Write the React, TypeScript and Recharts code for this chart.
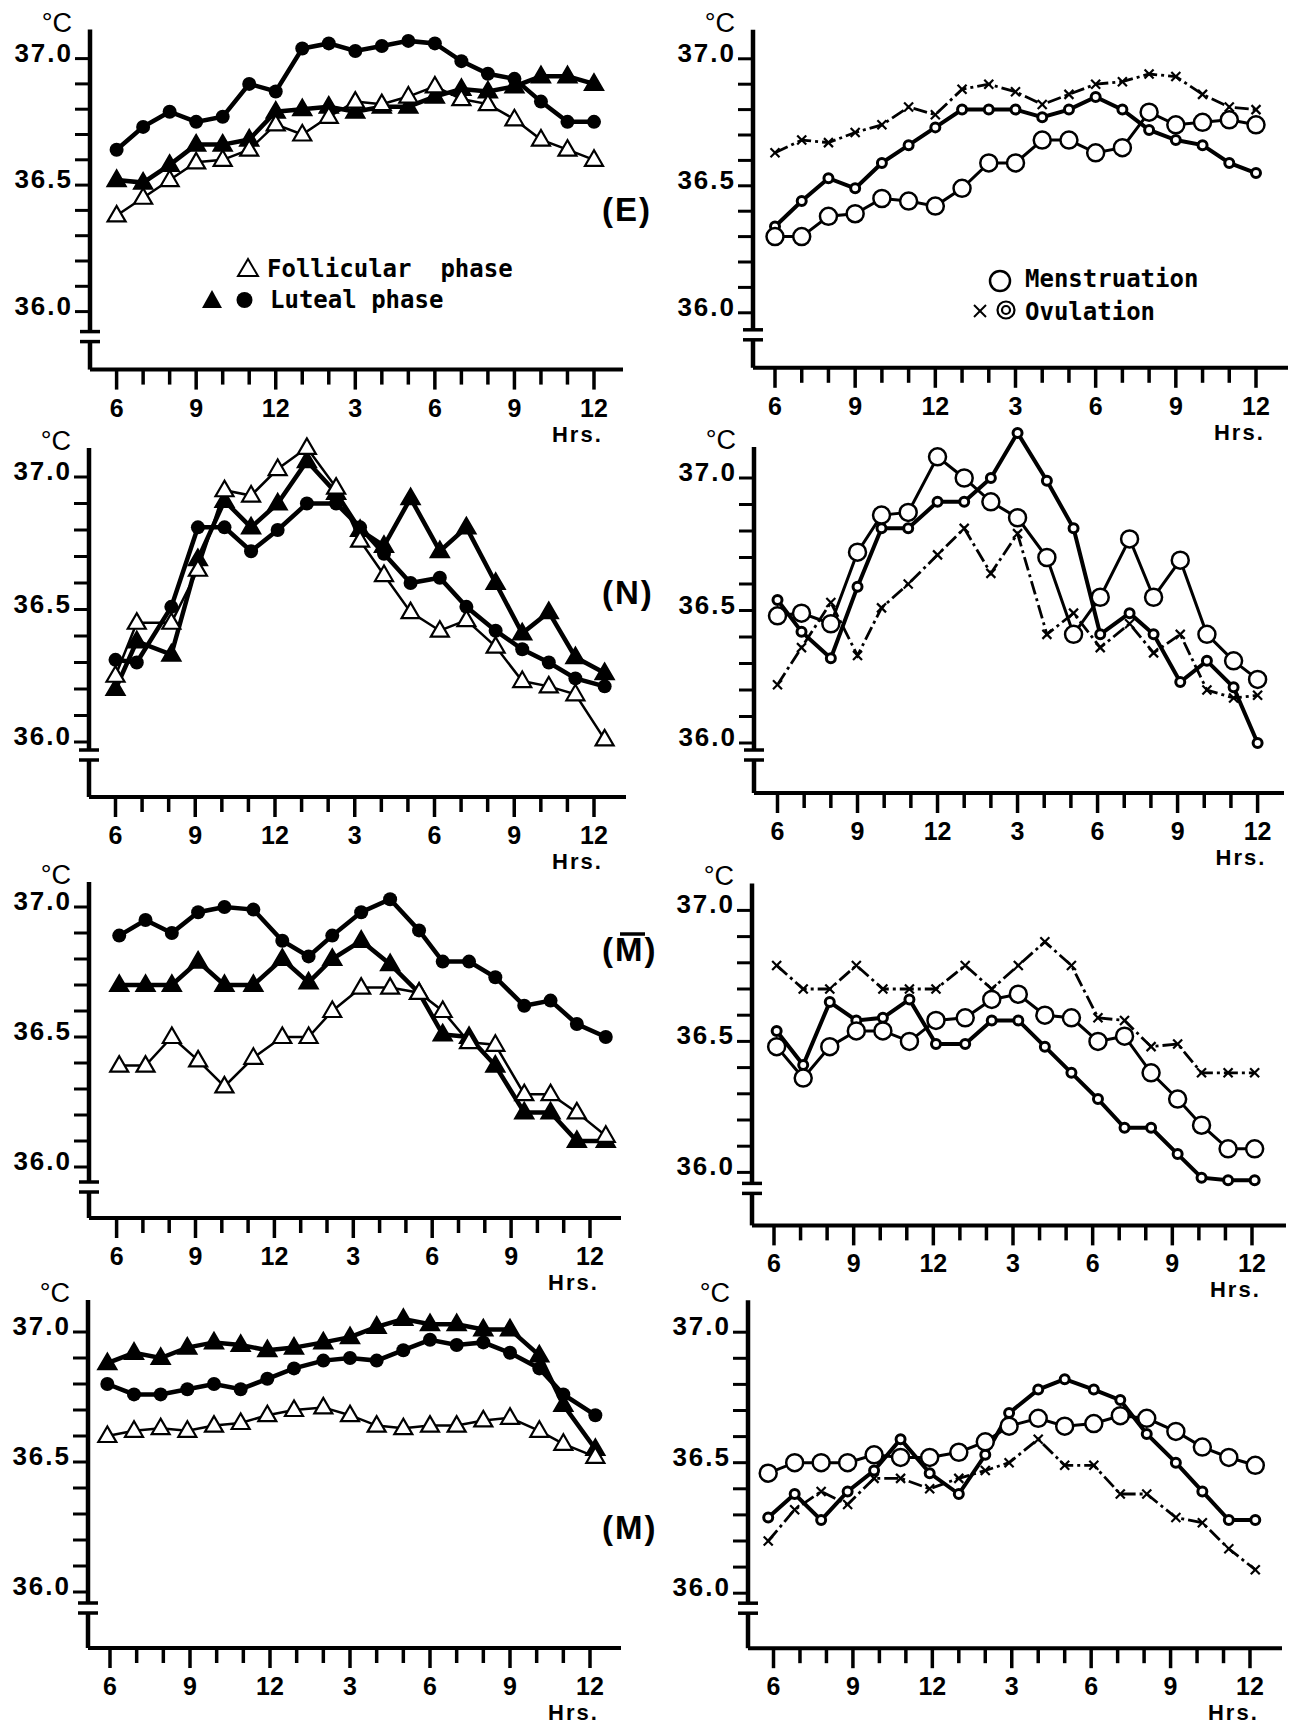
import React from "react"
import { LineChart, Line, XAxis, YAxis, ReferenceLine } from "recharts"

// sampling hours (6 = 6 a.m., 24 = midnight)
const eLeftHours = [6, 7, 8, 9, 10, 11, 12, 13, 14, 15, 16, 17, 18, 19, 20, 21, 22, 23, 24]
const eRightHours = [6, 7, 8, 9, 10, 11, 12, 13, 14, 15, 16, 17, 18, 19, 20, 21, 22, 23, 24]
const nLeftHours = [6, 6.8, 8.1, 9.1, 10.1, 11.1, 12.1, 13.2, 14.3, 15.2, 16.1, 17.1, 18.2, 19.2, 20.3, 21.3, 22.3, 23.3, 24.4]
const nRightHours = [6, 6.9, 8, 9, 9.9, 10.9, 12, 13, 14, 15, 16.1, 17.1, 18.1, 19.2, 20.1, 21.1, 22.1, 23.1, 24]
const mbLeftHours = [6.1, 7.1, 8.1, 9.1, 10.1, 11.2, 12.3, 13.3, 14.2, 15.3, 16.4, 17.5, 18.4, 19.4, 20.4, 21.5, 22.5, 23.5, 24.6]
const mbRightHours = [6.1, 7.1, 8.1, 9.1, 10.1, 11.1, 12.1, 13.2, 14.2, 15.2, 16.2, 17.2, 18.2, 19.2, 20.2, 21.2, 22.1, 23.1, 24.1]
const mLeftHours = [5.9, 6.9, 7.9, 8.9, 9.9, 10.9, 11.9, 12.9, 14, 15, 16, 17, 18, 19, 20, 21, 22.1, 23, 24.2]
const mRightHours = [5.8, 6.8, 7.8, 8.8, 9.8, 10.8, 11.9, 13, 14, 14.9, 16, 17, 18.1, 19.1, 20.1, 21.2, 22.2, 23.2, 24.2]

// (E)
const eFollicular = [36.38, 36.45, 36.52, 36.59, 36.6, 36.64, 36.74, 36.7, 36.77, 36.83, 36.82, 36.85, 36.89, 36.84, 36.82, 36.76, 36.68, 36.64, 36.6]
const eLutealTri = [36.52, 36.51, 36.58, 36.66, 36.66, 36.68, 36.79, 36.8, 36.81, 36.79, 36.81, 36.81, 36.85, 36.88, 36.87, 36.89, 36.93, 36.93, 36.9]
const eLutealDot = [36.64, 36.73, 36.79, 36.75, 36.77, 36.9, 36.87, 37.04, 37.06, 37.03, 37.05, 37.07, 37.06, 36.99, 36.94, 36.92, 36.83, 36.75, 36.75]
const eMenses = [36.3, 36.3, 36.38, 36.39, 36.45, 36.44, 36.42, 36.49, 36.59, 36.59, 36.68, 36.68, 36.63, 36.65, 36.79, 36.74, 36.75, 36.76, 36.74]
const eOvulRing = [36.34, 36.44, 36.53, 36.49, 36.59, 36.66, 36.73, 36.8, 36.8, 36.8, 36.77, 36.8, 36.85, 36.8, 36.72, 36.68, 36.66, 36.59, 36.55]
const eOvulCross = [36.63, 36.68, 36.67, 36.71, 36.74, 36.81, 36.78, 36.88, 36.9, 36.87, 36.82, 36.86, 36.9, 36.91, 36.94, 36.93, 36.86, 36.81, 36.8]

// (N)
const nFollicular = [36.25, 36.45, 36.45, 36.65, 36.95, 36.93, 37.03, 37.11, 36.96, 36.76, 36.63, 36.49, 36.42, 36.46, 36.36, 36.23, 36.21, 36.18, 36.01]
const nLutealTri = [36.2, 36.38, 36.33, 36.69, 36.91, 36.81, 36.9, 37.06, 36.94, 36.8, 36.74, 36.92, 36.72, 36.81, 36.6, 36.41, 36.49, 36.32, 36.26]
const nLutealDot = [36.31, 36.3, 36.51, 36.81, 36.81, 36.72, 36.8, 36.9, 36.9, 36.81, 36.71, 36.6, 36.62, 36.51, 36.42, 36.35, 36.3, 36.24, 36.21]
const nMenses = [36.48, 36.49, 36.45, 36.72, 36.86, 36.87, 37.08, 37.0, 36.91, 36.85, 36.7, 36.41, 36.55, 36.77, 36.55, 36.69, 36.41, 36.31, 36.24]
const nOvulRing = [36.54, 36.42, 36.32, 36.59, 36.81, 36.81, 36.91, 36.91, 37.0, 37.17, 36.99, 36.81, 36.41, 36.49, 36.41, 36.23, 36.31, 36.21, 36.0]
const nOvulCross = [36.22, 36.36, 36.53, 36.33, 36.51, 36.6, 36.71, 36.81, 36.64, 36.79, 36.41, 36.49, 36.36, 36.45, 36.34, 36.41, 36.2, 36.17, 36.18]

// (M bar)
const mbFollicular = [36.39, 36.39, 36.5, 36.41, 36.31, 36.42, 36.5, 36.5, 36.6, 36.69, 36.69, 36.67, 36.6, 36.48, 36.47, 36.28, 36.28, 36.21, 36.12]
const mbLutealTri = [36.7, 36.7, 36.7, 36.79, 36.7, 36.7, 36.8, 36.71, 36.8, 36.87, 36.78, 36.67, 36.51, 36.5, 36.39, 36.21, 36.21, 36.1, 36.1]
const mbLutealDot = [36.89, 36.95, 36.9, 36.98, 37.0, 36.99, 36.87, 36.81, 36.89, 36.98, 37.03, 36.91, 36.79, 36.79, 36.73, 36.62, 36.64, 36.55, 36.5]
const mbMenses = [36.48, 36.36, 36.48, 36.54, 36.54, 36.5, 36.58, 36.59, 36.66, 36.68, 36.6, 36.59, 36.5, 36.52, 36.38, 36.28, 36.18, 36.09, 36.09]
const mbOvulRing = [36.54, 36.41, 36.65, 36.58, 36.59, 36.66, 36.49, 36.49, 36.58, 36.58, 36.48, 36.38, 36.28, 36.17, 36.17, 36.07, 35.98, 35.97, 35.97]
const mbOvulCross = [36.79, 36.7, 36.7, 36.79, 36.7, 36.7, 36.7, 36.79, 36.7, 36.79, 36.88, 36.79, 36.59, 36.58, 36.48, 36.49, 36.38, 36.38, 36.38]

// (M)
const mFollicular = [36.6, 36.62, 36.63, 36.62, 36.64, 36.65, 36.68, 36.7, 36.71, 36.68, 36.64, 36.63, 36.64, 36.64, 36.66, 36.67, 36.62, 36.57, 36.52]
const mLutealTri = [36.88, 36.92, 36.9, 36.94, 36.96, 36.95, 36.93, 36.94, 36.96, 36.98, 37.02, 37.05, 37.03, 37.03, 37.01, 37.01, 36.91, 36.72, 36.55]
const mLutealDot = [36.8, 36.76, 36.76, 36.78, 36.8, 36.78, 36.82, 36.86, 36.89, 36.9, 36.89, 36.93, 36.97, 36.95, 36.96, 36.92, 36.86, 36.76, 36.68]
const mMenses = [36.46, 36.5, 36.5, 36.5, 36.53, 36.52, 36.52, 36.54, 36.58, 36.64, 36.67, 36.64, 36.65, 36.68, 36.67, 36.62, 36.56, 36.52, 36.49]
const mOvulRing = [36.29, 36.38, 36.28, 36.39, 36.47, 36.59, 36.46, 36.38, 36.53, 36.69, 36.78, 36.82, 36.78, 36.74, 36.61, 36.5, 36.39, 36.28, 36.28]
const mOvulCross = [36.2, 36.32, 36.39, 36.34, 36.44, 36.44, 36.4, 36.44, 36.47, 36.5, 36.59, 36.49, 36.49, 36.38, 36.38, 36.29, 36.27, 36.17, 36.09]

// axes
const Y_TICKS = [36.0, 36.1, 36.2, 36.3, 36.4, 36.5, 36.6, 36.7, 36.8, 36.9, 37.0]
const Y_LABELED = [36.0, 36.5, 37.0]
const X_TICKS = [6, 7, 8, 9, 10, 11, 12, 13, 14, 15, 16, 17, 18, 19, 20, 21, 22, 23, 24]
const X_MAJOR = [6, 9, 12, 15, 18, 21, 24]
const X_MAJOR_LABELS = ["6", "9", "12", "3", "6", "9", "12"]

const SANS = "'Liberation Sans', Arial, Helvetica, sans-serif"
const MONO = "'DejaVu Sans Mono', 'Liberation Mono', monospace"

// page geometry of each panel (px): y-axis x, x of 6h and 24h, x-axis end,
// y of 37.0 and 36.0, x-axis y, y-axis top, upper break mark
type Geo = {
  axisX: number; h6: number; h24: number; xEnd: number
  y37: number; y36: number; axisY: number; axisTop: number; brk: number
}

const GEO_E_L: Geo = { axisX: 90, h6: 116.6, h24: 594, xEnd: 623, y37: 59, y36: 312, axisY: 370, axisTop: 30, brk: 332 }
const GEO_E_R: Geo = { axisX: 753, h6: 775, h24: 1256, xEnd: 1288, y37: 59, y36: 313, axisY: 368, axisTop: 30, brk: 330 }
const GEO_N_L: Geo = { axisX: 89, h6: 115.5, h24: 594, xEnd: 626, y37: 477, y36: 742, axisY: 797, axisTop: 448, brk: 750 }
const GEO_N_R: Geo = { axisX: 754, h6: 777.5, h24: 1257.6, xEnd: 1284, y37: 478, y36: 743, axisY: 793, axisTop: 447, brk: 750 }
const GEO_MB_L: Geo = { axisX: 89, h6: 116.6, h24: 590, xEnd: 621, y37: 907, y36: 1167, axisY: 1218, axisTop: 882, brk: 1182 }
const GEO_MB_R: Geo = { axisX: 752, h6: 774, h24: 1252, xEnd: 1286, y37: 910, y36: 1172, axisY: 1225, axisTop: 883, brk: 1183 }
const GEO_M_L: Geo = { axisX: 88, h6: 110, h24: 590, xEnd: 621, y37: 1332, y36: 1592, axisY: 1648, axisTop: 1300, brk: 1603 }
const GEO_M_R: Geo = { axisX: 748, h6: 773.5, h24: 1250, xEnd: 1282, y37: 1332, y36: 1593, axisY: 1648, axisTop: 1300, brk: 1603 }

type MarkKind = "openTri" | "fillTri" | "fillDot" | "openDot" | "ringDot" | "cross"

function mark(kind: MarkKind) {
  // eslint-disable-next-line @typescript-eslint/no-explicit-any
  return (p: any) => {
    const { cx, cy, index } = p
    const k = `m${index}`
    if (cx == null || cy == null) return <g key={k} />
    switch (kind) {
      case "openTri":
      case "fillTri":
        return (
          <polygon
            key={k}
            points={`${cx},${cy - 9.5} ${cx - 9},${cy + 6} ${cx + 9},${cy + 6}`}
            fill={kind === "openTri" ? "#fff" : "#000"}
            stroke="#000"
            strokeWidth={2.2}
          />
        )
      case "fillDot":
        return <circle key={k} cx={cx} cy={cy} r={7} fill="#000" />
      case "openDot":
        return <circle key={k} cx={cx} cy={cy} r={8.5} fill="#fff" stroke="#000" strokeWidth={2.5} />
      case "ringDot":
        return <circle key={k} cx={cx} cy={cy} r={4.5} fill="#fff" stroke="#000" strokeWidth={3} />
      default:
        return (
          <g key={k} stroke="#000" strokeWidth={2.2}>
            <line x1={cx - 4.5} y1={cy - 4.5} x2={cx + 4.5} y2={cy + 4.5} />
            <line x1={cx - 4.5} y1={cy + 4.5} x2={cx + 4.5} y2={cy - 4.5} />
          </g>
        )
    }
  }
}

type SeriesStyle = { key: "a" | "b" | "c"; kind: MarkKind; width: number; dash?: string }

// a = follicular / menstruation, b = luteal ▲ / ovulation ◎, c = luteal ● / ovulation ×
const PHASE_STYLE: SeriesStyle[] = [
  { key: "b", kind: "fillTri", width: 4.5 },
  { key: "c", kind: "fillDot", width: 4.5 },
  { key: "a", kind: "openTri", width: 2.5 },
]
const CYCLE_STYLE: SeriesStyle[] = [
  { key: "c", kind: "cross", width: 2.8, dash: "14 4 3 4" },
  { key: "b", kind: "ringDot", width: 4 },
  { key: "a", kind: "openDot", width: 3 },
]

const YW = 95
const XH = 90
const MR = 8
const Y_TOP = 37.2

interface PanelProps {
  geo: Geo
  hours: number[]
  a: number[]
  b: number[]
  c: number[]
  styles: SeriesStyle[]
}

function Panel({ geo, hours, a, b, c, styles }: PanelProps) {
  const pxHr = (geo.h24 - geo.h6) / 18
  const pxDeg = geo.y36 - geo.y37
  const xMin = 6 + (geo.axisX - geo.h6) / pxHr
  const xMax = 6 + (geo.xEnd - geo.h6) / pxHr
  const toVal = (py: number) => 36 - (py - geo.y36) / pxDeg
  const yMin = toVal(geo.axisY)
  const plotTop = geo.y37 - (Y_TOP - 37) * pxDeg
  const plotH = geo.axisY - plotTop
  const plotW = geo.xEnd - geo.axisX
  const width = YW + plotW + MR
  const height = plotH + XH
  const topVal = toVal(geo.axisTop)
  const brkHi = toVal(geo.brk)
  const brkLo = toVal(geo.brk + 10)
  const dx = 10 / pxHr

  const data = hours.map((h, i) => ({ h, a: a[i], b: b[i], c: c[i] }))

  // eslint-disable-next-line @typescript-eslint/no-explicit-any
  const yTick = (p: any) => {
    const v = p.payload.value as number
    const y = p.y as number
    const labeled = Y_LABELED.some((t) => Math.abs(t - v) < 1e-6)
    return (
      <g>
        <line x1={YW - 15} x2={YW} y1={y} y2={y} stroke="#000" strokeWidth={3} />
        {labeled && (
          <text x={YW - 17} y={y + 3} textAnchor="end" fontFamily={SANS} fontWeight={700} fontSize={26} letterSpacing={2} fill="#000">
            {v.toFixed(1)}
          </text>
        )}
      </g>
    )
  }

  // eslint-disable-next-line @typescript-eslint/no-explicit-any
  const xTick = (p: any) => {
    const v = p.payload.value as number
    const x = p.x as number
    const mi = X_MAJOR.indexOf(v)
    return (
      <g>
        <line x1={x} x2={x} y1={plotH} y2={plotH + (mi >= 0 ? 20 : 15)} stroke="#000" strokeWidth={3.5} />
        {mi >= 0 && (
          <text x={x} y={plotH + 47} textAnchor="middle" fontFamily={SANS} fontWeight={700} fontSize={25} fill="#000">
            {X_MAJOR_LABELS[mi]}
          </text>
        )}
        {v === 24 && (
          <text x={x - 42} y={plotH + 72} fontFamily={SANS} fontWeight={700} fontSize={22} letterSpacing={2} fill="#000">
            Hrs.
          </text>
        )}
      </g>
    )
  }

  return (
    <div style={{ position: "absolute", left: geo.axisX - YW, top: plotTop, width, height }}>
      <LineChart width={width} height={height} data={data} margin={{ top: 0, right: MR, left: 0, bottom: 0 }}>
        <XAxis
          dataKey="h"
          type="number"
          domain={[xMin, xMax]}
          allowDataOverflow
          ticks={X_TICKS}
          interval={0}
          height={XH}
          tickLine={false}
          axisLine={{ stroke: "#000", strokeWidth: 4 }}
          tick={xTick}
        />
        <YAxis
          type="number"
          domain={[yMin, Y_TOP]}
          allowDataOverflow
          ticks={Y_TICKS}
          interval={0}
          width={YW}
          tickLine={false}
          axisLine={false}
          tick={yTick}
        />
        <ReferenceLine segment={[{ x: xMin, y: topVal }, { x: xMin, y: brkHi }]} stroke="#000" strokeWidth={4.5} ifOverflow="visible" />
        <ReferenceLine segment={[{ x: xMin, y: brkLo }, { x: xMin, y: yMin }]} stroke="#000" strokeWidth={4.5} ifOverflow="visible" />
        <ReferenceLine segment={[{ x: xMin - dx, y: brkHi }, { x: xMin + dx, y: brkHi }]} stroke="#000" strokeWidth={3.5} ifOverflow="visible" />
        <ReferenceLine segment={[{ x: xMin - dx, y: brkLo }, { x: xMin + dx, y: brkLo }]} stroke="#000" strokeWidth={3.5} ifOverflow="visible" />
        {styles.map((s) => (
          <Line
            key={s.key}
            type="linear"
            dataKey={s.key}
            stroke="#000"
            strokeWidth={s.width}
            strokeDasharray={s.dash}
            dot={mark(s.kind)}
            activeDot={false}
            isAnimationActive={false}
          />
        ))}
      </LineChart>
    </div>
  )
}

const PANELS: PanelProps[] = [
  { geo: GEO_E_L, hours: eLeftHours, a: eFollicular, b: eLutealTri, c: eLutealDot, styles: PHASE_STYLE },
  { geo: GEO_E_R, hours: eRightHours, a: eMenses, b: eOvulRing, c: eOvulCross, styles: CYCLE_STYLE },
  { geo: GEO_N_L, hours: nLeftHours, a: nFollicular, b: nLutealTri, c: nLutealDot, styles: PHASE_STYLE },
  { geo: GEO_N_R, hours: nRightHours, a: nMenses, b: nOvulRing, c: nOvulCross, styles: CYCLE_STYLE },
  { geo: GEO_MB_L, hours: mbLeftHours, a: mbFollicular, b: mbLutealTri, c: mbLutealDot, styles: PHASE_STYLE },
  { geo: GEO_MB_R, hours: mbRightHours, a: mbMenses, b: mbOvulRing, c: mbOvulCross, styles: CYCLE_STYLE },
  { geo: GEO_M_L, hours: mLeftHours, a: mFollicular, b: mLutealTri, c: mLutealDot, styles: PHASE_STYLE },
  { geo: GEO_M_R, hours: mRightHours, a: mMenses, b: mOvulRing, c: mOvulCross, styles: CYCLE_STYLE },
]

const TAGS = [
  { text: "(E)", y: 221 },
  { text: "(N)", y: 604 },
  { text: "(M)", y: 961 },
  { text: "(M)", y: 1539 },
]

export default function App() {
  return (
    <div style={{ position: "absolute", left: 0, top: 0, width: 1299, height: 1724, background: "#fff", overflow: "hidden" }}>
      {PANELS.map((p, i) => (
        <Panel key={i} {...p} />
      ))}
      <svg width={1299} height={1724} style={{ position: "absolute", left: 0, top: 0, pointerEvents: "none" }}>
        {PANELS.map((p, i) => (
          <text key={i} x={p.geo.axisX - 18} y={p.geo.axisTop + 2} textAnchor="end" fontFamily={SANS} fontSize={27} fill="#000">
            °C
          </text>
        ))}
        {TAGS.map((t, i) => (
          <text key={i} x={602} y={t.y} fontFamily={SANS} fontWeight={700} fontSize={33} letterSpacing={2} fill="#000">
            {t.text}
          </text>
        ))}
        <line x1={620} x2={645} y1={934} y2={934} stroke="#000" strokeWidth={3.5} />

        {/* legend, left column */}
        <polygon points="248,259 238,276 258,276" fill="#fff" stroke="#000" strokeWidth={2} />
        <text x={267} y={277} fontFamily={MONO} fontWeight={700} fontSize={24} fill="#000" style={{ whiteSpace: "pre" }}>
          Follicular  phase
        </text>
        <polygon points="212,290 202,308 222,308" fill="#000" />
        <circle cx={244.5} cy={300} r={8} fill="#000" />
        <text x={270} y={308} fontFamily={MONO} fontWeight={700} fontSize={24} fill="#000">
          Luteal phase
        </text>

        {/* legend, right column */}
        <circle cx={1000} cy={281} r={10} fill="#fff" stroke="#000" strokeWidth={2.5} />
        <text x={1025} y={287} fontFamily={MONO} fontWeight={700} fontSize={24} fill="#000">
          Menstruation
        </text>
        <g stroke="#000" strokeWidth={2}>
          <line x1={974} y1={305} x2={986} y2={317} />
          <line x1={974} y1={317} x2={986} y2={305} />
        </g>
        <circle cx={1006} cy={310} r={8.5} fill="none" stroke="#000" strokeWidth={2.2} />
        <circle cx={1006} cy={310} r={4} fill="none" stroke="#000" strokeWidth={2.2} />
        <text x={1025} y={320} fontFamily={MONO} fontWeight={700} fontSize={24} fill="#000">
          Ovulation
        </text>
      </svg>
    </div>
  )
}
